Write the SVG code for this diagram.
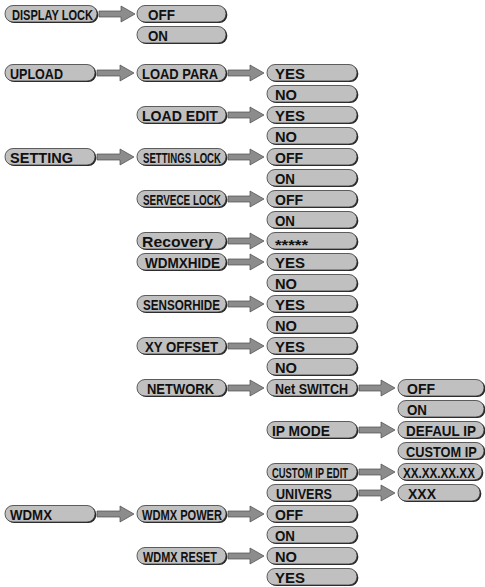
<svg xmlns="http://www.w3.org/2000/svg" width="485" height="587" viewBox="0 0 485 587">
<style>
.sh{fill:#262626}
.pl{fill:#c0c0c0;stroke:#3a3a3a;stroke-width:.8}
.t{font-family:"Liberation Sans",Arial,sans-serif;font-weight:bold;font-size:15px;fill:#111}
.ar{fill:#8c8c8c;stroke:#4a4a4a;stroke-width:.7}
</style>
<rect width="485" height="587" fill="#fff"/>
<g id="connectors">
<polygon class="ar" points="99,11 121,11 121,6 135,14 121,22 121,17 99,17"/>
<polygon class="ar" points="97,70 120,70 120,65 134,73 120,81 120,76 97,76"/>
<polygon class="ar" points="228,70 250,70 250,65 264,73 250,81 250,76 228,76"/>
<polygon class="ar" points="228,112 250,112 250,107 264,115 250,123 250,118 228,118"/>
<polygon class="ar" points="97,154 120,154 120,149 134,157 120,165 120,160 97,160"/>
<polygon class="ar" points="228,154 250,154 250,149 264,157 250,165 250,160 228,160"/>
<polygon class="ar" points="228,196 250,196 250,191 264,199 250,207 250,202 228,202"/>
<polygon class="ar" points="228,238 250,238 250,233 264,241 250,249 250,244 228,244"/>
<polygon class="ar" points="228,259 250,259 250,254 264,262 250,270 250,265 228,265"/>
<polygon class="ar" points="228,301 250,301 250,296 264,304 250,312 250,307 228,307"/>
<polygon class="ar" points="228,343 250,343 250,338 264,346 250,354 250,349 228,349"/>
<polygon class="ar" points="228,385 250,385 250,380 264,388 250,396 250,391 228,391"/>
<polygon class="ar" points="359,385 381,385 381,380 395,388 381,396 381,391 359,391"/>
<polygon class="ar" points="359,427 381,427 381,422 395,430 381,438 381,433 359,433"/>
<polygon class="ar" points="359,469 381,469 381,464 395,472 381,480 381,475 359,475"/>
<polygon class="ar" points="359,490 381,490 381,485 395,493 381,501 381,496 359,496"/>
<polygon class="ar" points="97,511 120,511 120,506 134,514 120,522 120,517 97,517"/>
<polygon class="ar" points="228,511 250,511 250,506 264,514 250,522 250,517 228,517"/>
<polygon class="ar" points="228,553 250,553 250,548 264,556 250,564 250,559 228,559"/>
</g>

<g id="n-display-lock"><rect class="sh" x="6.3" y="6.5" width="92" height="16.5" rx="8"/><rect class="pl" x="5" y="5.5" width="92" height="16.5" rx="8"/><text class="t" x="12" y="19.5" textLength="81" lengthAdjust="spacingAndGlyphs">DISPLAY LOCK</text></g>
<g id="n-dl-off"><rect class="sh" x="138.3" y="6.5" width="89" height="16.5" rx="8"/><rect class="pl" x="137" y="5.5" width="89" height="16.5" rx="8"/><text class="t" x="148" y="19.5" textLength="27" lengthAdjust="spacingAndGlyphs">OFF</text></g>
<g id="n-dl-on"><rect class="sh" x="138.3" y="27.5" width="89" height="16.5" rx="8"/><rect class="pl" x="137" y="26.5" width="89" height="16.5" rx="8"/><text class="t" x="148" y="40.5" textLength="20" lengthAdjust="spacingAndGlyphs">ON</text></g>

<g id="n-upload"><rect class="sh" x="6.3" y="65.5" width="90" height="16.5" rx="8"/><rect class="pl" x="5" y="64.5" width="90" height="16.5" rx="8"/><text class="t" x="10" y="78.5" textLength="53" lengthAdjust="spacingAndGlyphs">UPLOAD</text></g>
<g id="n-load-para"><rect class="sh" x="138.3" y="65.5" width="89" height="16.5" rx="8"/><rect class="pl" x="137" y="64.5" width="89" height="16.5" rx="8"/><text class="t" x="142" y="78.5" textLength="76" lengthAdjust="spacingAndGlyphs">LOAD PARA</text></g>
<g id="n-lp-yes"><rect class="sh" x="268.3" y="65.5" width="90" height="16.5" rx="8"/><rect class="pl" x="267" y="64.5" width="90" height="16.5" rx="8"/><text class="t" x="275" y="78.5" textLength="30" lengthAdjust="spacingAndGlyphs">YES</text></g>
<g id="n-lp-no"><rect class="sh" x="268.3" y="86.5" width="90" height="16.5" rx="8"/><rect class="pl" x="267" y="85.5" width="90" height="16.5" rx="8"/><text class="t" x="275" y="99.5" textLength="22" lengthAdjust="spacingAndGlyphs">NO</text></g>
<g id="n-load-edit"><rect class="sh" x="138.3" y="107.5" width="89" height="16.5" rx="8"/><rect class="pl" x="137" y="106.5" width="89" height="16.5" rx="8"/><text class="t" x="142" y="120.5" textLength="76" lengthAdjust="spacingAndGlyphs">LOAD EDIT</text></g>
<g id="n-le-yes"><rect class="sh" x="268.3" y="107.5" width="90" height="16.5" rx="8"/><rect class="pl" x="267" y="106.5" width="90" height="16.5" rx="8"/><text class="t" x="275" y="120.5" textLength="30" lengthAdjust="spacingAndGlyphs">YES</text></g>
<g id="n-le-no"><rect class="sh" x="268.3" y="128.5" width="90" height="16.5" rx="8"/><rect class="pl" x="267" y="127.5" width="90" height="16.5" rx="8"/><text class="t" x="275" y="141.5" textLength="22" lengthAdjust="spacingAndGlyphs">NO</text></g>

<g id="n-setting"><rect class="sh" x="6.3" y="149.5" width="90" height="16.5" rx="8"/><rect class="pl" x="5" y="148.5" width="90" height="16.5" rx="8"/><text class="t" x="10" y="162.5" textLength="63" lengthAdjust="spacingAndGlyphs">SETTING</text></g>
<g id="n-settings-lock"><rect class="sh" x="138.3" y="149.5" width="89" height="16.5" rx="8"/><rect class="pl" x="137" y="148.5" width="89" height="16.5" rx="8"/><text class="t" x="143" y="162.5" textLength="78" lengthAdjust="spacingAndGlyphs">SETTINGS LOCK</text></g>
<g id="n-sl-off"><rect class="sh" x="268.3" y="149.5" width="90" height="16.5" rx="8"/><rect class="pl" x="267" y="148.5" width="90" height="16.5" rx="8"/><text class="t" x="275" y="162.5" textLength="28" lengthAdjust="spacingAndGlyphs">OFF</text></g>
<g id="n-sl-on"><rect class="sh" x="268.3" y="170.5" width="90" height="16.5" rx="8"/><rect class="pl" x="267" y="169.5" width="90" height="16.5" rx="8"/><text class="t" x="275" y="183.5" textLength="20" lengthAdjust="spacingAndGlyphs">ON</text></g>
<g id="n-servece-lock"><rect class="sh" x="138.3" y="191.5" width="89" height="16.5" rx="8"/><rect class="pl" x="137" y="190.5" width="89" height="16.5" rx="8"/><text class="t" x="143" y="204.5" textLength="78" lengthAdjust="spacingAndGlyphs">SERVECE LOCK</text></g>
<g id="n-svl-off"><rect class="sh" x="268.3" y="191.5" width="90" height="16.5" rx="8"/><rect class="pl" x="267" y="190.5" width="90" height="16.5" rx="8"/><text class="t" x="275" y="204.5" textLength="28" lengthAdjust="spacingAndGlyphs">OFF</text></g>
<g id="n-svl-on"><rect class="sh" x="268.3" y="212.5" width="90" height="16.5" rx="8"/><rect class="pl" x="267" y="211.5" width="90" height="16.5" rx="8"/><text class="t" x="275" y="225.5" textLength="20" lengthAdjust="spacingAndGlyphs">ON</text></g>
<g id="n-recovery"><rect class="sh" x="138.3" y="233.5" width="89" height="16.5" rx="8"/><rect class="pl" x="137" y="232.5" width="89" height="16.5" rx="8"/><text class="t" x="142" y="246.5" textLength="71" lengthAdjust="spacingAndGlyphs">Recovery</text></g>
<g id="n-rec-pw"><rect class="sh" x="268.3" y="233.5" width="90" height="16.5" rx="8"/><rect class="pl" x="267" y="232.5" width="90" height="16.5" rx="8"/><text class="t" x="275" y="250" textLength="33" lengthAdjust="spacingAndGlyphs">*****</text></g>
<g id="n-wdmxhide"><rect class="sh" x="138.3" y="254.5" width="89" height="16.5" rx="8"/><rect class="pl" x="137" y="253.5" width="89" height="16.5" rx="8"/><text class="t" x="145" y="267.5" textLength="75" lengthAdjust="spacingAndGlyphs">WDMXHIDE</text></g>
<g id="n-wh-yes"><rect class="sh" x="268.3" y="254.5" width="90" height="16.5" rx="8"/><rect class="pl" x="267" y="253.5" width="90" height="16.5" rx="8"/><text class="t" x="275" y="267.5" textLength="30" lengthAdjust="spacingAndGlyphs">YES</text></g>
<g id="n-wh-no"><rect class="sh" x="268.3" y="275.5" width="90" height="16.5" rx="8"/><rect class="pl" x="267" y="274.5" width="90" height="16.5" rx="8"/><text class="t" x="275" y="288.5" textLength="22" lengthAdjust="spacingAndGlyphs">NO</text></g>
<g id="n-sensorhide"><rect class="sh" x="138.3" y="296.5" width="89" height="16.5" rx="8"/><rect class="pl" x="137" y="295.5" width="89" height="16.5" rx="8"/><text class="t" x="143" y="309.5" textLength="77" lengthAdjust="spacingAndGlyphs">SENSORHIDE</text></g>
<g id="n-sh-yes"><rect class="sh" x="268.3" y="296.5" width="90" height="16.5" rx="8"/><rect class="pl" x="267" y="295.5" width="90" height="16.5" rx="8"/><text class="t" x="275" y="309.5" textLength="30" lengthAdjust="spacingAndGlyphs">YES</text></g>
<g id="n-sh-no"><rect class="sh" x="268.3" y="317.5" width="90" height="16.5" rx="8"/><rect class="pl" x="267" y="316.5" width="90" height="16.5" rx="8"/><text class="t" x="275" y="330.5" textLength="22" lengthAdjust="spacingAndGlyphs">NO</text></g>
<g id="n-xy-offset"><rect class="sh" x="138.3" y="338.5" width="89" height="16.5" rx="8"/><rect class="pl" x="137" y="337.5" width="89" height="16.5" rx="8"/><text class="t" x="145" y="351.5" textLength="73" lengthAdjust="spacingAndGlyphs">XY OFFSET</text></g>
<g id="n-xy-yes"><rect class="sh" x="268.3" y="338.5" width="90" height="16.5" rx="8"/><rect class="pl" x="267" y="337.5" width="90" height="16.5" rx="8"/><text class="t" x="275" y="351.5" textLength="30" lengthAdjust="spacingAndGlyphs">YES</text></g>
<g id="n-xy-no"><rect class="sh" x="268.3" y="359.5" width="90" height="16.5" rx="8"/><rect class="pl" x="267" y="358.5" width="90" height="16.5" rx="8"/><text class="t" x="275" y="372.5" textLength="22" lengthAdjust="spacingAndGlyphs">NO</text></g>
<g id="n-network"><rect class="sh" x="138.3" y="380.5" width="89" height="16.5" rx="8"/><rect class="pl" x="137" y="379.5" width="89" height="16.5" rx="8"/><text class="t" x="147" y="393.5" textLength="67" lengthAdjust="spacingAndGlyphs">NETWORK</text></g>
<g id="n-net-switch"><rect class="sh" x="268.3" y="380.5" width="90" height="16.5" rx="8"/><rect class="pl" x="267" y="379.5" width="90" height="16.5" rx="8"/><text class="t" x="275" y="393.5" textLength="73" lengthAdjust="spacingAndGlyphs">Net SWITCH</text></g>
<g id="n-ns-off"><rect class="sh" x="399.3" y="380.5" width="86" height="16.5" rx="8"/><rect class="pl" x="398" y="379.5" width="86" height="16.5" rx="8"/><text class="t" x="407" y="393.5" textLength="28" lengthAdjust="spacingAndGlyphs">OFF</text></g>
<g id="n-ns-on"><rect class="sh" x="399.3" y="401.5" width="86" height="16.5" rx="8"/><rect class="pl" x="398" y="400.5" width="86" height="16.5" rx="8"/><text class="t" x="407" y="414.5" textLength="20" lengthAdjust="spacingAndGlyphs">ON</text></g>
<g id="n-ip-mode"><rect class="sh" x="268.3" y="422.5" width="90" height="16.5" rx="8"/><rect class="pl" x="267" y="421.5" width="90" height="16.5" rx="8"/><text class="t" x="272" y="435.5" textLength="58" lengthAdjust="spacingAndGlyphs">IP MODE</text></g>
<g id="n-defaul-ip"><rect class="sh" x="399.3" y="422.5" width="86" height="16.5" rx="8"/><rect class="pl" x="398" y="421.5" width="86" height="16.5" rx="8"/><text class="t" transform="translate(406,435.5) scale(0.897,1)" x="0" y="0">DEFAUL IP</text></g>
<g id="n-custom-ip"><rect class="sh" x="399.3" y="443.5" width="86" height="16.5" rx="8"/><rect class="pl" x="398" y="442.5" width="86" height="16.5" rx="8"/><text class="t" transform="translate(406,456.5) scale(0.852,1)" x="0" y="0">CUSTOM IP</text></g>
<g id="n-custom-ip-edit"><rect class="sh" x="268.3" y="464.5" width="90" height="16.5" rx="8"/><rect class="pl" x="267" y="463.5" width="90" height="16.5" rx="8"/><text class="t" x="272" y="477.5" textLength="76" lengthAdjust="spacingAndGlyphs">CUSTOM IP EDIT</text></g>
<g id="n-ip-value"><rect class="sh" x="399.3" y="464.5" width="84" height="16.5" rx="8"/><rect class="pl" x="398" y="463.5" width="84" height="16.5" rx="8"/><text class="t" transform="translate(403,477.5) scale(0.778,1)" x="0" y="0">XX.XX.XX.XX</text></g>
<g id="n-univers"><rect class="sh" x="268.3" y="485.5" width="90" height="16.5" rx="8"/><rect class="pl" x="267" y="484.5" width="90" height="16.5" rx="8"/><text class="t" x="276" y="498.5" textLength="56" lengthAdjust="spacingAndGlyphs">UNIVERS</text></g>
<g id="n-univers-value"><rect class="sh" x="399.3" y="485.5" width="82" height="16.5" rx="8"/><rect class="pl" x="398" y="484.5" width="82" height="16.5" rx="8"/><text class="t" x="408" y="498.5" textLength="28" lengthAdjust="spacingAndGlyphs">XXX</text></g>

<g id="n-wdmx"><rect class="sh" x="6.3" y="506.5" width="90" height="16.5" rx="8"/><rect class="pl" x="5" y="505.5" width="90" height="16.5" rx="8"/><text class="t" x="10" y="519.5" textLength="42" lengthAdjust="spacingAndGlyphs">WDMX</text></g>
<g id="n-wdmx-power"><rect class="sh" x="138.3" y="506.5" width="89" height="16.5" rx="8"/><rect class="pl" x="137" y="505.5" width="89" height="16.5" rx="8"/><text class="t" x="142" y="519.5" textLength="80" lengthAdjust="spacingAndGlyphs">WDMX POWER</text></g>
<g id="n-wp-off"><rect class="sh" x="268.3" y="506.5" width="90" height="16.5" rx="8"/><rect class="pl" x="267" y="505.5" width="90" height="16.5" rx="8"/><text class="t" x="275" y="519.5" textLength="28" lengthAdjust="spacingAndGlyphs">OFF</text></g>
<g id="n-wp-on"><rect class="sh" x="268.3" y="527.5" width="90" height="16.5" rx="8"/><rect class="pl" x="267" y="526.5" width="90" height="16.5" rx="8"/><text class="t" x="275" y="540.5" textLength="20" lengthAdjust="spacingAndGlyphs">ON</text></g>
<g id="n-wdmx-reset"><rect class="sh" x="138.3" y="548.5" width="89" height="16.5" rx="8"/><rect class="pl" x="137" y="547.5" width="89" height="16.5" rx="8"/><text class="t" x="143" y="561.5" textLength="74" lengthAdjust="spacingAndGlyphs">WDMX RESET</text></g>
<g id="n-wr-no"><rect class="sh" x="268.3" y="548.5" width="90" height="16.5" rx="8"/><rect class="pl" x="267" y="547.5" width="90" height="16.5" rx="8"/><text class="t" x="275" y="561.5" textLength="22" lengthAdjust="spacingAndGlyphs">NO</text></g>
<g id="n-wr-yes"><rect class="sh" x="268.3" y="569.5" width="90" height="16.5" rx="8"/><rect class="pl" x="267" y="568.5" width="90" height="16.5" rx="8"/><text class="t" x="275" y="582.5" textLength="30" lengthAdjust="spacingAndGlyphs">YES</text></g>
</svg>
